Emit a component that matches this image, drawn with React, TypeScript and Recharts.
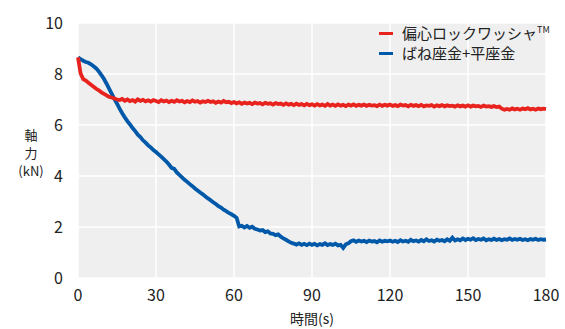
import React from "react";
import { LineChart, Line, XAxis, YAxis, CartesianGrid, Legend } from "recharts";

// Sampling interval (s) of the recorded data
const sampleStep = 1;

// 偏心ロックワッシャ™ axial force (kN), one value per second, t = 0..180
const eccentricForce = [
  8.65, 8.02, 7.8, 7.74, 7.66, 7.58, 7.5, 7.42, 7.36, 7.28,
  7.22, 7.16, 7.1, 7.08, 7.04, 7.0, 6.98, 7.02, 6.95, 7.0,
  6.94, 6.98, 6.92, 7.01, 6.95, 6.99, 6.93, 6.97, 6.92, 6.98,
  6.94, 6.9, 6.97, 6.92, 6.96, 6.9, 6.95, 6.91, 6.97, 6.92,
  6.95, 6.89, 6.94, 6.9, 6.96, 6.91, 6.94, 6.88, 6.93, 6.9,
  6.95, 6.9, 6.93, 6.87, 6.92, 6.88, 6.94, 6.89, 6.91, 6.86,
  6.9, 6.85, 6.89, 6.83, 6.88, 6.84, 6.87, 6.82, 6.88, 6.84,
  6.86, 6.81, 6.87, 6.83, 6.85, 6.8, 6.86, 6.82, 6.84, 6.79,
  6.85, 6.8, 6.83, 6.78, 6.84, 6.79, 6.82, 6.77, 6.83, 6.78,
  6.81, 6.76, 6.82, 6.77, 6.8, 6.75, 6.82, 6.76, 6.8, 6.75,
  6.81, 6.76, 6.79, 6.74, 6.8, 6.76, 6.81, 6.75, 6.79, 6.76,
  6.8, 6.75, 6.79, 6.76, 6.78, 6.74, 6.8, 6.75, 6.79, 6.76,
  6.8, 6.75, 6.78, 6.74, 6.8, 6.76, 6.78, 6.73, 6.79, 6.75,
  6.78, 6.74, 6.79, 6.73, 6.77, 6.75, 6.78, 6.72, 6.77, 6.74,
  6.78, 6.73, 6.77, 6.74, 6.76, 6.72, 6.77, 6.73, 6.76, 6.72,
  6.77, 6.72, 6.76, 6.73, 6.75, 6.71, 6.76, 6.72, 6.74, 6.71,
  6.74, 6.7, 6.72, 6.64, 6.6, 6.63, 6.6, 6.65, 6.61, 6.64,
  6.6, 6.65, 6.62, 6.66, 6.61, 6.64, 6.6, 6.65, 6.62, 6.64,
  6.62,
];

// ばね座金+平座金 axial force (kN), one value per second, t = 0..180
const springForce = [
  8.65, 8.58, 8.52, 8.47, 8.44, 8.38, 8.3, 8.22, 8.1, 7.96,
  7.8, 7.62, 7.42, 7.22, 7.02, 6.84, 6.64, 6.46, 6.3, 6.15,
  6.02, 5.88, 5.76, 5.62, 5.53, 5.4, 5.31, 5.2, 5.12, 5.02,
  4.94, 4.85, 4.76, 4.66, 4.57, 4.45, 4.32, 4.28, 4.14, 4.04,
  3.95, 3.85, 3.77, 3.68, 3.6, 3.51, 3.43, 3.35, 3.28, 3.2,
  3.12, 3.05, 2.97, 2.9, 2.82, 2.76, 2.68, 2.62, 2.55, 2.5,
  2.44, 2.36, 2.02, 2.05, 1.98, 2.04, 1.97, 2.01, 1.93, 1.9,
  1.86, 1.88, 1.8, 1.83, 1.75, 1.73, 1.68, 1.71, 1.62, 1.55,
  1.5, 1.44, 1.38, 1.35, 1.31, 1.36, 1.3, 1.34, 1.29, 1.35,
  1.3, 1.34, 1.28, 1.33, 1.3, 1.36, 1.29, 1.33, 1.3, 1.35,
  1.28, 1.3, 1.18, 1.32, 1.36, 1.44, 1.48, 1.42, 1.47, 1.43,
  1.46, 1.41, 1.47, 1.43, 1.45, 1.4, 1.47, 1.42, 1.46, 1.44,
  1.47, 1.42, 1.46, 1.41, 1.48, 1.43, 1.46, 1.42, 1.5, 1.44,
  1.47, 1.43, 1.49, 1.44, 1.52, 1.45, 1.48, 1.43, 1.5, 1.46,
  1.49, 1.44, 1.52, 1.46, 1.58, 1.47, 1.52, 1.48, 1.55, 1.49,
  1.54, 1.5, 1.56, 1.49, 1.53, 1.5, 1.55, 1.48, 1.52, 1.49,
  1.54, 1.49, 1.53, 1.48, 1.52, 1.5, 1.55, 1.49, 1.53, 1.5,
  1.54, 1.49, 1.52, 1.48, 1.53, 1.5, 1.54, 1.49, 1.52, 1.5,
  1.51,
];

const xTicks = [0, 30, 60, 90, 120, 150, 180];
const yTicks = [0, 2, 4, 6, 8, 10];

const seriesNames = ["偏心ロックワッシャ™", "ばね座金+平座金"];
const RED = "#e8221d";
const BLUE = "#0058a9";
const FONT = "'Noto Sans CJK JP', 'Noto Sans', sans-serif";

const data = eccentricForce.map((v, i) => ({
  t: i * sampleStep,
  eccentric: v,
  spring: springForce[i],
}));

const LegendContent = () => (
  <div style={{ fontFamily: FONT, fontSize: 15, color: "#222", lineHeight: "20px" }}>
    {[
      { name: "偏心ロックワッシャ", tm: true, color: RED },
      { name: seriesNames[1], tm: false, color: BLUE },
    ].map((it) => (
      <div key={it.name} style={{ display: "flex", alignItems: "center", whiteSpace: "nowrap" }}>
        <span style={{ display: "inline-block", width: 14, height: 3, background: it.color, marginRight: 9 }} />
        <span>
          {it.name}
          {it.tm ? <sup style={{ fontSize: 9, verticalAlign: "6px", lineHeight: 0 }}>TM</sup> : null}
        </span>
      </div>
    ))}
  </div>
);

const YLabel = (props: any) => {
  const vb = props.viewBox || { x: 0, y: 0, width: 0, height: 0 };
  const cx = 31;
  const cy = vb.y + vb.height / 2;
  return (
    <g fill="#222" fontFamily={FONT} fontSize={13}>
      <text x={cx} y={cy - 11} textAnchor="middle">軸</text>
      <text x={cx} y={cy + 7} textAnchor="middle">力</text>
      <text x={cx} y={cy + 25} textAnchor="middle">(kN)</text>
    </g>
  );
};

export default function App() {
  return (
    <div style={{ position: "absolute", left: 0, top: 0, width: 565, height: 329, background: "#fff" }}>
      <LineChart
        width={565}
        height={329}
        data={data}
        margin={{ top: 23, right: 19, left: 0, bottom: 21 }}
      >
        <CartesianGrid fill="#efefef" stroke="#ffffff" strokeWidth={1.5} horizontalValues={yTicks} verticalValues={xTicks} />
        <XAxis
          dataKey="t"
          type="number"
          domain={[0, 180]}
          ticks={xTicks}
          axisLine={false}
          tickLine={false}
          tickSize={0}
          tickMargin={12}
          height={30}
          tick={{ fill: "#222", fontSize: 16, fontFamily: FONT }}
          label={{
            value: "時間(s)",
            position: "bottom",
            offset: 6,
            fill: "#222",
            fontSize: 14,
            fontFamily: FONT,
          }}
        />
        <YAxis
          type="number"
          domain={[0, 10]}
          ticks={yTicks}
          axisLine={false}
          tickLine={false}
          tickSize={0}
          tickMargin={15}
          width={78}
          tick={{ fill: "#222", fontSize: 16, fontFamily: FONT }}
          label={{ content: <YLabel /> }}
        />
        <Legend
          layout="vertical"
          align="center"
          verticalAlign="middle"
          content={<LegendContent />}
          wrapperStyle={{ position: "absolute", top: 23, left: 379, width: 180 }}
        />
        <Line
          type="linear"
          dataKey="spring"
          name={seriesNames[1]}
          stroke={BLUE}
          strokeWidth={3.8}
          dot={false}
          isAnimationActive={false}
        />
        <Line
          type="linear"
          dataKey="eccentric"
          name={seriesNames[0]}
          stroke={RED}
          strokeWidth={3.8}
          dot={false}
          isAnimationActive={false}
        />
      </LineChart>
    </div>
  );
}
